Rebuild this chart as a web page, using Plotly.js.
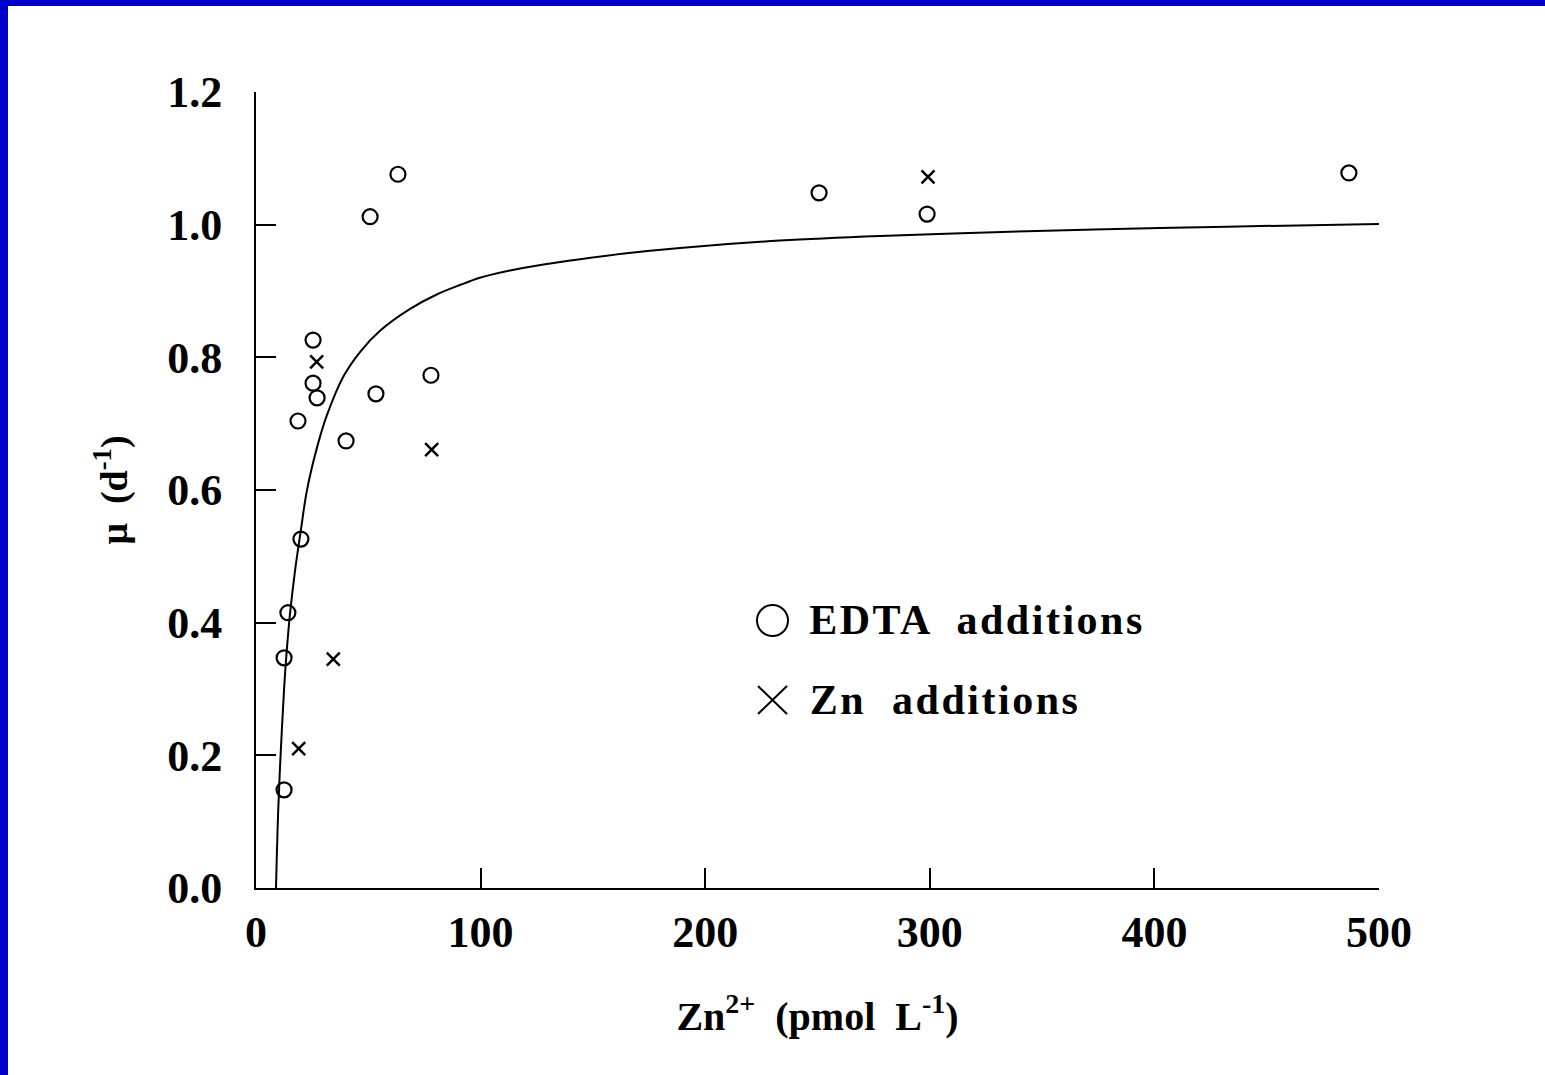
<!DOCTYPE html>
<html>
<head>
<meta charset="utf-8">
<script src="https://cdn.plot.ly/plotly-3.0.1.min.js"></script>
<style>
  html, body { margin: 0; padding: 0; background: rgb(0,0,204); width: 1545px; height: 1075px; overflow: hidden; }
  #chart { position: absolute; left: 8px; top: 6px; width: 1537px; height: 1069px; background: #fff; }
  #chart .annotation-text { letter-spacing: 2.5px; }
</style>
</head>
<body>
<div id="chart"></div>
<script>
// EDTA additions (open circles)
const edtaZn = [12.5, 12.5, 14.2, 20.0, 18.7, 25.4, 25.4, 27.2, 40.1, 53.4, 50.8, 63.2, 77.9, 250.7, 298.8, 486.6];
const edtaMu = [0.148, 0.347, 0.415, 0.526, 0.704, 0.761, 0.826, 0.739, 0.674, 0.745, 1.012, 1.076, 0.773, 1.048, 1.016, 1.078];

// Zn additions (crosses)
const znZn = [27.0, 78.2, 34.4, 19.0, 299.2];
const znMu = [0.793, 0.661, 0.345, 0.210, 1.072];

// Fitted curve
const fitZn = [8.9, 9.9, 11.0, 12.5, 13.4, 15.1, 17.4, 20.0, 22.6, 27.0, 31.5, 38.9, 46.3, 55.2, 68.6, 80.0, 90.8, 99.7, 113.1, 128.0, 144.3, 165.0, 188.8, 233.3, 277.8, 343.3, 387.8, 432.3, 500.0];
const fitMu = [0.000, 0.118, 0.204, 0.300, 0.345, 0.412, 0.479, 0.540, 0.598, 0.662, 0.712, 0.771, 0.808, 0.840, 0.873, 0.894, 0.909, 0.920, 0.931, 0.940, 0.948, 0.957, 0.965, 0.976, 0.983, 0.990, 0.994, 0.997, 1.001];

const xTicks = [0, 100, 200, 300, 400, 500];
const yTicks = [0.0, 0.2, 0.4, 0.6, 0.8, 1.0, 1.2];

const legendLabels = ['EDTA  additions', 'Zn  additions'];

const serif = 'Liberation Serif, Times New Roman, serif';

const traces = [
  { x: fitZn, y: fitMu, mode: 'lines', line: { color: '#000', width: 2, shape: 'spline', smoothing: 1 }, hoverinfo: 'skip', showlegend: false },
  { x: edtaZn, y: edtaMu, mode: 'markers', name: legendLabels[0],
    marker: { symbol: 'circle-open', size: 15, color: '#000', line: { width: 2.2, color: '#000' } }, showlegend: false },
  { x: znZn, y: znMu, mode: 'markers', name: legendLabels[1],
    marker: { symbol: 'x-thin-open', size: 13, color: '#000', line: { width: 2.5, color: '#000' } }, showlegend: false }
];

// plot area in page px: x 256..1379, y 92..888
const W = 1123, H = 796;
const px = p => (p - 256) / W;
const py = p => (888 - p) / H;

const layout = {
  width: 1537, height: 1069,
  paper_bgcolor: '#fff', plot_bgcolor: '#fff',
  margin: { l: 248, r: 166, t: 86, b: 187, pad: 0 },
  showlegend: false,
  font: { family: serif, color: '#000' },
  xaxis: {
    range: [0, 500], tickvals: xTicks, ticktext: xTicks.map(String),
    ticks: 'inside', ticklen: 20, tickwidth: 2, tickcolor: '#000',
    showline: true, linewidth: 2, linecolor: '#000', mirror: false,
    showgrid: false, zeroline: false, automargin: false,
    tickfont: { family: serif, size: 44, weight: 700, color: '#000' },
    ticklabelstandoff: 4,
    title: { text: 'Zn<sup>2+</sup>  (pmol  L<sup>-1</sup>)', font: { family: serif, size: 40, weight: 700, color: '#000' }, standoff: 46 }
  },
  yaxis: {
    range: [0, 1.2], tickvals: yTicks, ticktext: yTicks.map(v => v.toFixed(1)),
    ticks: 'inside', ticklen: 20, tickwidth: 2, tickcolor: '#000',
    showline: true, linewidth: 2, linecolor: '#000', mirror: false,
    showgrid: false, zeroline: false, automargin: false,
    tickfont: { family: serif, size: 44, weight: 700, color: '#000' },
    ticklabelstandoff: 23,
    title: { text: 'μ  (d<sup>-1</sup>)', font: { family: serif, size: 38, weight: 700, color: '#000' }, standoff: 28 }
  },
  shapes: [
    { type: 'circle', xref: 'paper', yref: 'paper',
      x0: px(757), x1: px(788), y0: py(636), y1: py(605), line: { color: '#000', width: 2 } },
    { type: 'line', xref: 'paper', yref: 'paper',
      x0: px(758), x1: px(787), y0: py(686), y1: py(714), line: { color: '#000', width: 2 } },
    { type: 'line', xref: 'paper', yref: 'paper',
      x0: px(758), x1: px(787), y0: py(714), y1: py(686), line: { color: '#000', width: 2 } }
  ],
  annotations: [
    { xref: 'paper', yref: 'paper', x: px(826), y: py(620), xanchor: 'left', yanchor: 'middle', showarrow: false,
      text: legendLabels[0], font: { family: serif, size: 42, weight: 700, color: '#000' } },
    { xref: 'paper', yref: 'paper', x: px(824), y: py(700), xanchor: 'left', yanchor: 'middle', showarrow: false,
      text: legendLabels[1], font: { family: serif, size: 42, weight: 700, color: '#000' } }
  ]
};

Plotly.newPlot('chart', traces, layout, { displayModeBar: false, staticPlot: true });
</script>
</body>
</html>
